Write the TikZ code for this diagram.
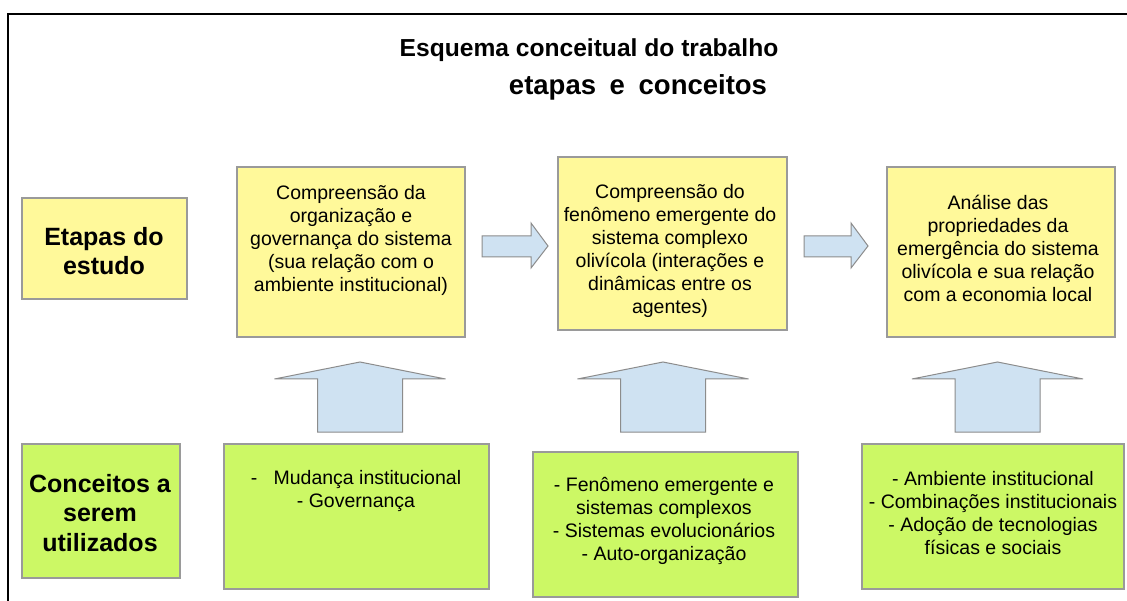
\documentclass[tikz,border=0pt]{standalone}
\usepackage{fontspec}
\setmainfont{Liberation Sans}
\definecolor{yel}{HTML}{FFF99A}
\definecolor{grn}{HTML}{CCF865}
\definecolor{blu}{HTML}{CFE2F2}
\definecolor{bord}{HTML}{9A9A9A}
\definecolor{arrbord}{HTML}{8C8C8C}
\begin{document}
\begin{tikzpicture}[x=1pt,y=-1pt,
  yelbox/.style={draw=bord, fill=yel, line width=1.3pt, inner sep=0pt, outer sep=0pt, anchor=north west},
  grnbox/.style={draw=bord, fill=grn, line width=1.3pt, inner sep=0pt, outer sep=0pt, anchor=north west},
  blockarrow/.style={draw=arrbord, fill=blu, line width=1pt, line join=miter},
  body/.style={font=\fontsize{19.5}{23}\selectfont, align=center, inner sep=0pt},
  headtxt/.style={font=\fontsize{25}{29.5}\selectfont\bfseries, align=center, inner sep=0pt},
  titletxt/.style={font=\fontsize{24.6}{30}\selectfont\bfseries, inner sep=0pt}
]
\useasboundingbox (0,0) rectangle (1127,601);
\fill[white] (0,0) rectangle (1127,601);
\begin{scope}
\clip (0,0) rectangle (1127,601);
\draw[line width=2pt] (1140,14) -- (8,14) -- (8,610);
\end{scope}

% title
\node[titletxt] (title1) at (589,50) {Esquema conceitual do trabalho};
\node[titletxt, font=\fontsize{27.5}{30}\selectfont\bfseries] (title2) at (638,87) {etapas\hspace{6pt} e\hspace{6pt} conceitos};

% top row boxes
\node[yelbox, minimum width=165, minimum height=101] (etapas) at (22,198) {};
\node[yelbox, minimum width=228, minimum height=170] (b1) at (237,167) {};
\node[yelbox, minimum width=229, minimum height=173] (b2) at (558,157) {};
\node[yelbox, minimum width=228, minimum height=170] (b3) at (887,167) {};

\node[headtxt] (etapasT) at (104,251) {Etapas do\\estudo};
\node[body] (b1T) at (351,240) {Compreensão da\\organização e\\governança do sistema\\(sua relação com o\\ambiente institucional)};
\node[body] (b2T) at (670,251) {Compreensão do\\fenômeno emergente do\\sistema complexo\\olivícola (interações e\\dinâmicas entre os\\agentes)};
\node[body] (b3T) at (998,248) {Análise das\\propriedades da\\emergência do sistema\\olivícola e sua relação\\com a economia local};

% bottom row boxes
\node[grnbox, minimum width=158, minimum height=134] (conc) at (22,444) {};
\node[grnbox, minimum width=265, minimum height=145] (g1) at (224,444) {};
\node[grnbox, minimum width=265, minimum height=145] (g2) at (533,452) {};
\node[grnbox, minimum width=262, minimum height=145] (g3) at (862,444) {};

\node[headtxt] (concT) at (100,513) {Conceitos a\\serem\\utilizados};
\node[body] (g1T) at (356,491) {-\ \ \ Mudança institucional\\- Governança};
\node[body] (g2T) at (664,521) {- Fenômeno emergente e\\sistemas complexos\\- Sistemas evolucionários\\- Auto-organização};
\node[body] (g3T) at (993,513) {- Ambiente institucional\\- Combinações institucionais\\- Adoção de tecnologias\\físicas e sociais};

% right block arrows
\draw[blockarrow] (482,236) -- (531,236) -- (531,223) -- (548,246) -- (531,268) -- (531,257) -- (482,257) -- cycle;
\draw[blockarrow] (804,236) -- (851,236) -- (851,223) -- (868,246) -- (851,268) -- (851,257) -- (804,257) -- cycle;

% up block arrows
\foreach \c in {360,663,997.5}{
  \draw[blockarrow] (\c-42.5,432) -- (\c-42.5,379) -- (\c-85.5,379) -- (\c,362) -- (\c+85.5,379) -- (\c+42.5,379) -- (\c+42.5,432) -- cycle;
}
\end{tikzpicture}
\end{document}
